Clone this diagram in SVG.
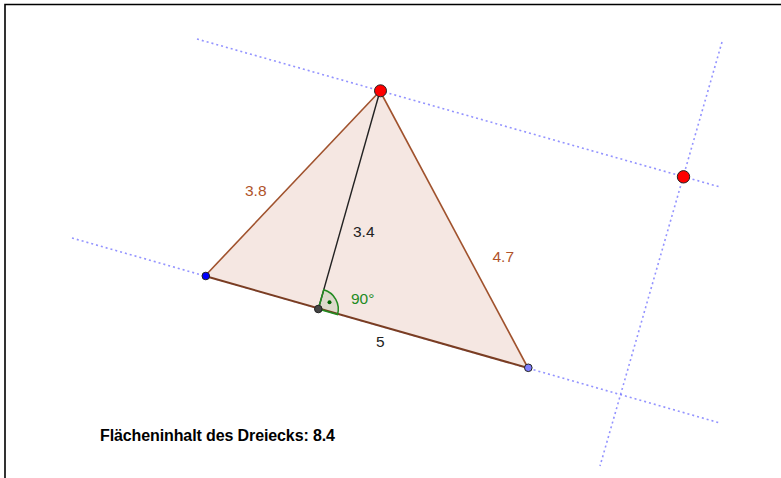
<svg xmlns="http://www.w3.org/2000/svg" width="781" height="478" viewBox="0 0 781 478">
<style>
.aux{stroke:#6f6fff;stroke-width:1.6;stroke-dasharray:2 3;fill:none;stroke-opacity:0.75}
.side{stroke:#a0522d;stroke-width:1.6;fill:none}
.lbl{font-family:"Liberation Sans",Arial,sans-serif;font-size:15.5px}
.pt{stroke:#222;stroke-width:1}
</style>
<rect width="781" height="478" fill="#fff"/>
<path d="M5,478 V4.5 H781" fill="none" stroke="#000" stroke-width="1.6"/>
<g id="connectors">
<line class="aux" x1="197" y1="39" x2="720" y2="187"/>
<line class="aux" x1="72" y1="238" x2="720" y2="423"/>
<line class="aux" x1="722" y1="42" x2="600" y2="466"/>
<polygon id="triangle" points="380,91 205,276 528,368" fill="#f5e7e2" stroke="none"/>
<line class="side" x1="380" y1="91" x2="205" y2="276"/>
<line class="side" x1="380" y1="91" x2="528" y2="368"/>
<line x1="205" y1="276" x2="528" y2="368" stroke="#7a3d22" stroke-width="2"/>
<line x1="380" y1="91" x2="318.3" y2="309" stroke="#222" stroke-width="1.4"/>
</g>
<g id="angle">
<path d="M318.3,309 L337.5,314.5 A20,20 0 0 0 323.8,289.8 Z" fill="#006400" fill-opacity="0.1" stroke="#228b22" stroke-width="1.5"/>
<circle cx="329.5" cy="302.3" r="2" fill="#006400"/>
</g>
<g id="labels" class="lbl">
<text x="245" y="196" fill="#b0532a">3.8</text>
<text x="353" y="237" fill="#222">3.4</text>
<text x="492.5" y="262" fill="#b0532a">4.7</text>
<text x="351" y="304" fill="#228b22">90°</text>
<text x="376" y="347" fill="#222">5</text>
</g>
<g id="points">
<circle id="A" class="pt" cx="380.5" cy="90.8" r="6" fill="#f00"/>
<circle id="D" class="pt" cx="683.5" cy="176.8" r="6.2" fill="#f00"/>
<circle id="B" class="pt" cx="205.8" cy="276" r="3.8" fill="#0000ff"/>
<circle id="C" class="pt" cx="528.3" cy="367.8" r="3.8" fill="#7f7fff"/>
<circle id="F" class="pt" cx="318.3" cy="309" r="3.8" fill="#444"/>
</g>
<text id="area" x="100" y="441" font-family="'Liberation Sans',Arial,sans-serif" font-size="16" font-weight="bold" fill="#000" textLength="235">Flächeninhalt des Dreiecks: 8.4</text>
</svg>
